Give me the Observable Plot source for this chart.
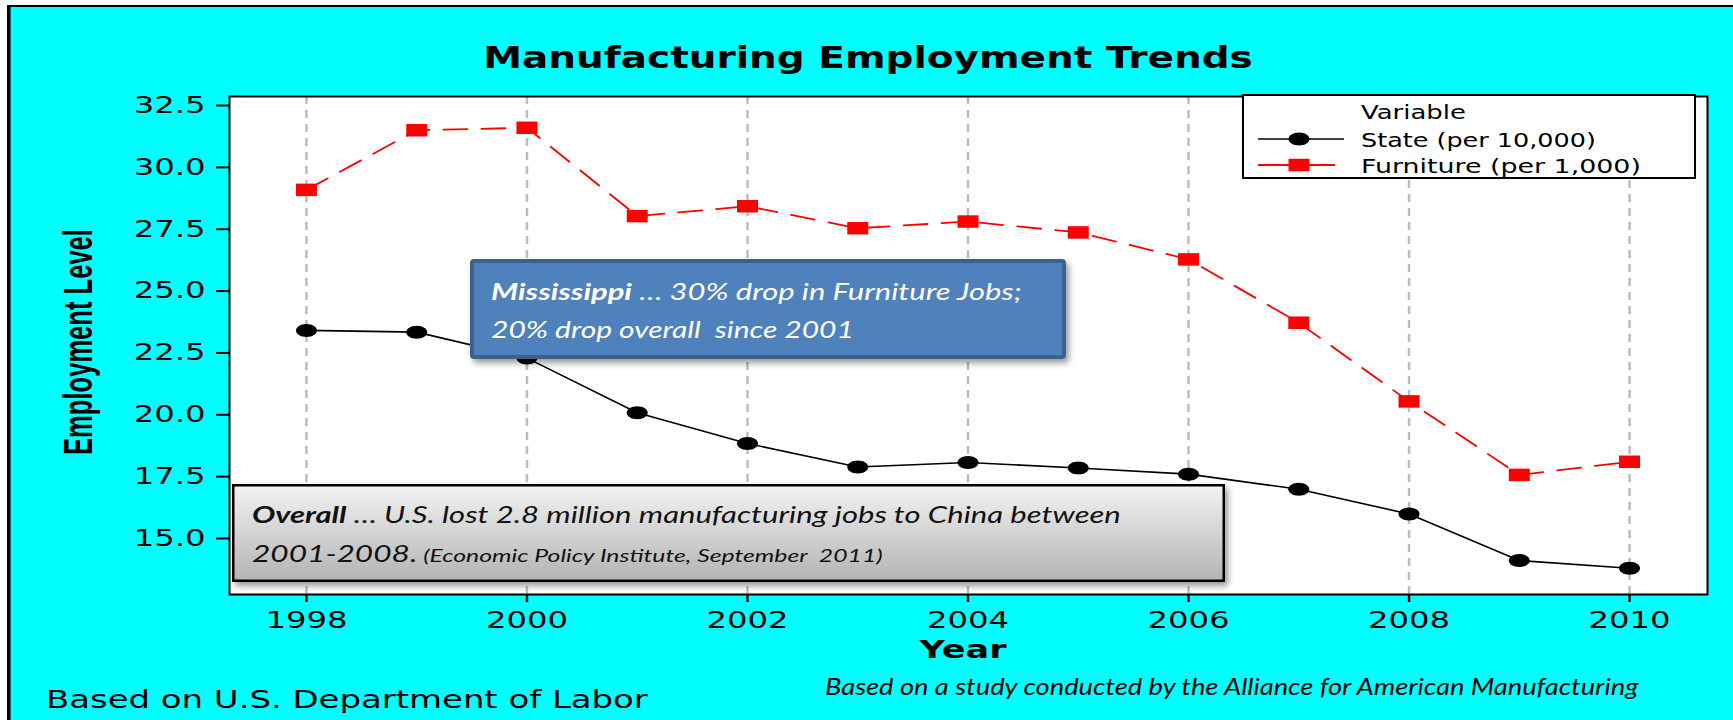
<!DOCTYPE html>
<html><head><meta charset="utf-8">
<script src="https://cdn.jsdelivr.net/npm/d3@7"></script>
<script src="https://cdn.jsdelivr.net/npm/@observablehq/plot@0.6"></script>
<style>html,body{margin:0;padding:0;background:#fff;} svg{display:block} text{white-space:pre}</style>
</head><body><div id="chart"></div>
<script>
// ---- data ----
const years = [1998, 1999, 2000, 2001, 2002, 2003, 2004, 2005, 2006, 2007, 2008, 2009, 2010];
const stateValues = [23.41, 23.34, 22.29, 20.08, 18.84, 17.89, 18.07, 17.85, 17.6, 16.99, 15.99, 14.11, 13.8];
const furnitureValues = [29.09, 31.5, 31.6, 28.03, 28.43, 27.54, 27.81, 27.37, 26.28, 23.72, 20.54, 17.57, 18.1];
const seriesNames = ["State (per 10,000)", "Furniture (per 1,000)"];
const legendTitle = "Variable";
const xTicks = [1998, 2000, 2002, 2004, 2006, 2008, 2010];
const yTicks = [15, 17.5, 20, 22.5, 25, 27.5, 30, 32.5];
const titleText = "Manufacturing Employment Trends";
const xLabel = "Year";
const yLabel = "Employment Level";
const footLeft = "Based on U.S. Department of Labor";
const footRight = "Based on a study conducted by the Alliance for American Manufacturing";
const noteMS = ["Mississippi", " \u2026 30% drop in Furniture Jobs;", "20% drop overall  since 2001"];
const noteUS = ["Overall", " \u2026 U.S. lost 2.8 million manufacturing jobs to China between", "2001-2008.", " (Economic Policy Institute, September  2011)"];

const state = years.map((year, i) => ({year, value: stateValues[i], series: seriesNames[0]}));
const furniture = years.map((year, i) => ({year, value: furnitureValues[i], series: seriesNames[1]}));

// ---- symbols (stretched markers) ----
function ellipseSymbol(rx, ry) {
  return {draw(ctx) {
    const k = 0.5523;
    ctx.moveTo(rx, 0);
    ctx.bezierCurveTo(rx, k * ry, k * rx, ry, 0, ry);
    ctx.bezierCurveTo(-k * rx, ry, -rx, k * ry, -rx, 0);
    ctx.bezierCurveTo(-rx, -k * ry, -k * rx, -ry, 0, -ry);
    ctx.bezierCurveTo(k * rx, -ry, rx, -k * ry, rx, 0);
    ctx.closePath();
  }};
}
function rectSymbol(w, h) {
  return {draw(ctx) {
    ctx.moveTo(-w / 2, -h / 2); ctx.lineTo(w / 2, -h / 2);
    ctx.lineTo(w / 2, h / 2); ctx.lineTo(-w / 2, h / 2); ctx.closePath();
  }};
}
const dotSym = ellipseSymbol(10.5, 6.5);
const sqSym = rectSymbol(21, 12.5);
const symPath = (s) => { const p = d3.path(); s.draw(p); return p.toString(); };

const MT = "DejaVu Sans, Verdana, sans-serif";
const PP = "Lato, 'Open Sans', sans-serif";

function decor() {
  const g = d3.create("svg:g").attr("text-anchor", "start");
  const defs = g.append("defs");
  const grad = defs.append("linearGradient").attr("id", "gOverall").attr("x1", 0).attr("y1", 0).attr("x2", 0).attr("y2", 1);
  grad.append("stop").attr("offset", "0%").attr("stop-color", "#f3f3f3");
  grad.append("stop").attr("offset", "100%").attr("stop-color", "#b3b3b3");
  const f = defs.append("filter").attr("id", "shadow").attr("x", "-5%").attr("y", "-10%").attr("width", "115%").attr("height", "140%");
  f.append("feDropShadow").attr("dx", 3).attr("dy", 4).attr("stdDeviation", 3).attr("flood-color", "#000").attr("flood-opacity", 0.4);

  // outer page border
  g.append("rect").attr("x", 0).attr("y", 0).attr("width", 1733).attr("height", 5).attr("fill", "#fff");
  g.append("rect").attr("x", 0).attr("y", 0).attr("width", 7).attr("height", 720).attr("fill", "#fff");
  g.append("line").attr("x1", 8.8).attr("x2", 8.8).attr("y1", 5).attr("y2", 720).attr("stroke", "#000").attr("stroke-width", 3.5);
  g.append("line").attr("x1", 7).attr("x2", 1733).attr("y1", 6).attr("y2", 6).attr("stroke", "#000").attr("stroke-width", 2);

  // title
  g.append("text").attr("x", 868).attr("y", 67.7).attr("text-anchor", "middle")
    .attr("font-family", MT).attr("font-weight", "bold").attr("font-size", 30).attr("fill", "#000")
    .attr("data-fit", 770).text(titleText);
  // axis labels
  g.append("text").attr("x", 963).attr("y", 658).attr("text-anchor", "middle")
    .attr("font-family", MT).attr("font-weight", "bold").attr("font-size", 24).attr("fill", "#000")
    .attr("data-fit", 87).text(xLabel);
  g.append("text").attr("transform", "translate(92,342) rotate(-90)").attr("text-anchor", "middle")
    .attr("font-family", "Liberation Sans, Arial, sans-serif").attr("font-weight", "bold").attr("font-size", 26).attr("fill", "#000")
    .attr("data-fit", 226).attr("data-sy", 1.56).text(yLabel);
  // footers
  g.append("text").attr("x", 46).attr("y", 708).attr("text-anchor", "start").attr("font-family", MT).attr("font-size", 25).attr("fill", "#000")
    .attr("data-fit", 602).text(footLeft);
  g.append("text").attr("x", 825).attr("y", 695).attr("text-anchor", "start").attr("font-family", PP).attr("font-style", "italic").attr("font-size", 23.5).attr("fill", "#000")
    .attr("data-fit", 814).text(footRight);

  // legend
  g.append("rect").attr("x", 1243).attr("y", 95).attr("width", 452).attr("height", 83)
    .attr("fill", "#fff").attr("stroke", "#000").attr("stroke-width", 2);
  g.append("text").attr("x", 1361).attr("y", 119.3).attr("text-anchor", "start").attr("font-family", MT).attr("font-size", 19.5).attr("fill", "#000")
    .attr("data-fit", 105).text(legendTitle);
  g.append("text").attr("x", 1361).attr("y", 146.7).attr("text-anchor", "start").attr("font-family", MT).attr("font-size", 19.5).attr("fill", "#000")
    .attr("data-fit", 235).text(seriesNames[0]);
  g.append("text").attr("x", 1361).attr("y", 172.7).attr("text-anchor", "start").attr("font-family", MT).attr("font-size", 19.5).attr("fill", "#000")
    .attr("data-fit", 280).text(seriesNames[1]);
  g.append("line").attr("x1", 1258).attr("x2", 1344).attr("y1", 139).attr("y2", 139).attr("stroke", "#000").attr("stroke-width", 1.6);
  g.append("path").attr("transform", "translate(1299,139)").attr("d", symPath(dotSym)).attr("fill", "#000");
  g.append("line").attr("x1", 1258).attr("x2", 1335).attr("y1", 165).attr("y2", 165).attr("stroke", "#f00").attr("stroke-width", 1.8);
  g.append("path").attr("transform", "translate(1299,165)").attr("d", symPath(sqSym)).attr("fill", "#f00");

  // Mississippi note
  g.append("rect").attr("x", 472).attr("y", 261).attr("width", 592).attr("height", 96).attr("rx", 2)
    .attr("fill", "#4f81bd").attr("stroke", "#3b6191").attr("stroke-width", 4).attr("filter", "url(#shadow)");
  const t1 = g.append("text").attr("x", 491).attr("y", 300).attr("text-anchor", "start").attr("font-family", PP).attr("font-style", "italic")
    .attr("font-size", 23).attr("fill", "#fff").attr("data-fit", 531);
  t1.append("tspan").attr("font-weight", "bold").text(noteMS[0]);
  t1.append("tspan").text(noteMS[1]);
  g.append("text").attr("x", 491).attr("y", 338).attr("text-anchor", "start").attr("font-family", PP).attr("font-style", "italic")
    .attr("font-size", 23).attr("fill", "#fff").attr("data-fit", 363).text(noteMS[2]);

  // Overall note
  g.append("rect").attr("x", 233.25).attr("y", 485.25).attr("width", 990.5).attr("height", 95.5)
    .attr("fill", "url(#gOverall)").attr("stroke", "#000").attr("stroke-width", 2.5).attr("filter", "url(#shadow)");
  const t2 = g.append("text").attr("x", 252).attr("y", 523).attr("text-anchor", "start").attr("font-family", PP).attr("font-style", "italic")
    .attr("font-size", 23).attr("fill", "#111").attr("data-fit", 869);
  t2.append("tspan").attr("font-weight", "bold").text(noteUS[0]);
  t2.append("tspan").text(noteUS[1]);
  const t3 = g.append("text").attr("x", 252).attr("y", 562).attr("text-anchor", "start").attr("font-family", PP).attr("font-style", "italic")
    .attr("font-size", 23).attr("fill", "#111").attr("data-fit", 631);
  t3.append("tspan").text(noteUS[2]);
  t3.append("tspan").attr("font-size", 18).text(noteUS[3]);
  return g.node();
}

const svg = Plot.plot({
  width: 1733,
  height: 720,
  marginLeft: 229, marginRight: 26, marginTop: 96, marginBottom: 126,
  style: {background: "#00ffff", fontFamily: MT, fontSize: "23px", color: "#000"},
  x: {domain: [1997.302, 2010.707], label: null},
  y: {domain: [12.736, 32.864], label: null},
  marks: [
    Plot.frame({fill: "#fff", stroke: "none"}),
    Plot.gridX({ticks: xTicks, stroke: "#bdbdbd", strokeOpacity: 1, strokeWidth: 2.5, strokeDasharray: "8,6"}),
    Plot.axisX({ticks: xTicks, tickFormat: "d", tickSize: 8, tickPadding: 9, fontSize: 23, strokeWidth: 2.4, label: null}),
    Plot.axisY({ticks: yTicks, tickFormat: ".1f", tickSize: 13, tickPadding: 11, fontSize: 23, strokeWidth: 2, label: null}),
    Plot.line(state, {x: "year", y: "value", stroke: "#000", strokeWidth: 1.6}),
    Plot.line(furniture, {x: "year", y: "value", stroke: "#ff0000", strokeWidth: 1.8, strokeDasharray: "24,14"}),
    Plot.dot(state, {x: "year", y: "value", symbol: dotSym, fill: "#000", stroke: "none"}),
    Plot.dot(furniture, {x: "year", y: "value", symbol: sqSym, fill: "#ff0000", stroke: "none"}),
    Plot.frame({stroke: "#000", strokeWidth: 2}),
    decor
  ]
});
document.getElementById("chart").append(svg);

function scaleAbout(el, sx, sy) {
  const t = el.getAttribute("transform") || "";
  let x = parseFloat(el.getAttribute("x") || "0"), y = parseFloat(el.getAttribute("y") || "0");
  if (!isFinite(x)) x = 0;
  if (!isFinite(y)) y = 0;
  el.setAttribute("transform", `${t} translate(${x},${y}) scale(${sx},${sy}) translate(${-x},${-y})`);
}
svg.querySelectorAll("text[data-fit]").forEach((el) => {
  const w = el.getComputedTextLength();
  if (w > 0) scaleAbout(el, +el.dataset.fit / w, +(el.dataset.sy || 1));
});
// stretched tick labels (the reference image is horizontally stretched)
svg.querySelectorAll('g[aria-label="x-axis tick label"] text, g[aria-label="y-axis tick label"] text')
  .forEach((el) => {
    const w = el.getComputedTextLength();
    if (w > 0) {
      el.setAttribute("textLength", (w * 1.4).toFixed(2));
      el.setAttribute("lengthAdjust", "spacingAndGlyphs");
    }
  });
</script>
</body></html>
